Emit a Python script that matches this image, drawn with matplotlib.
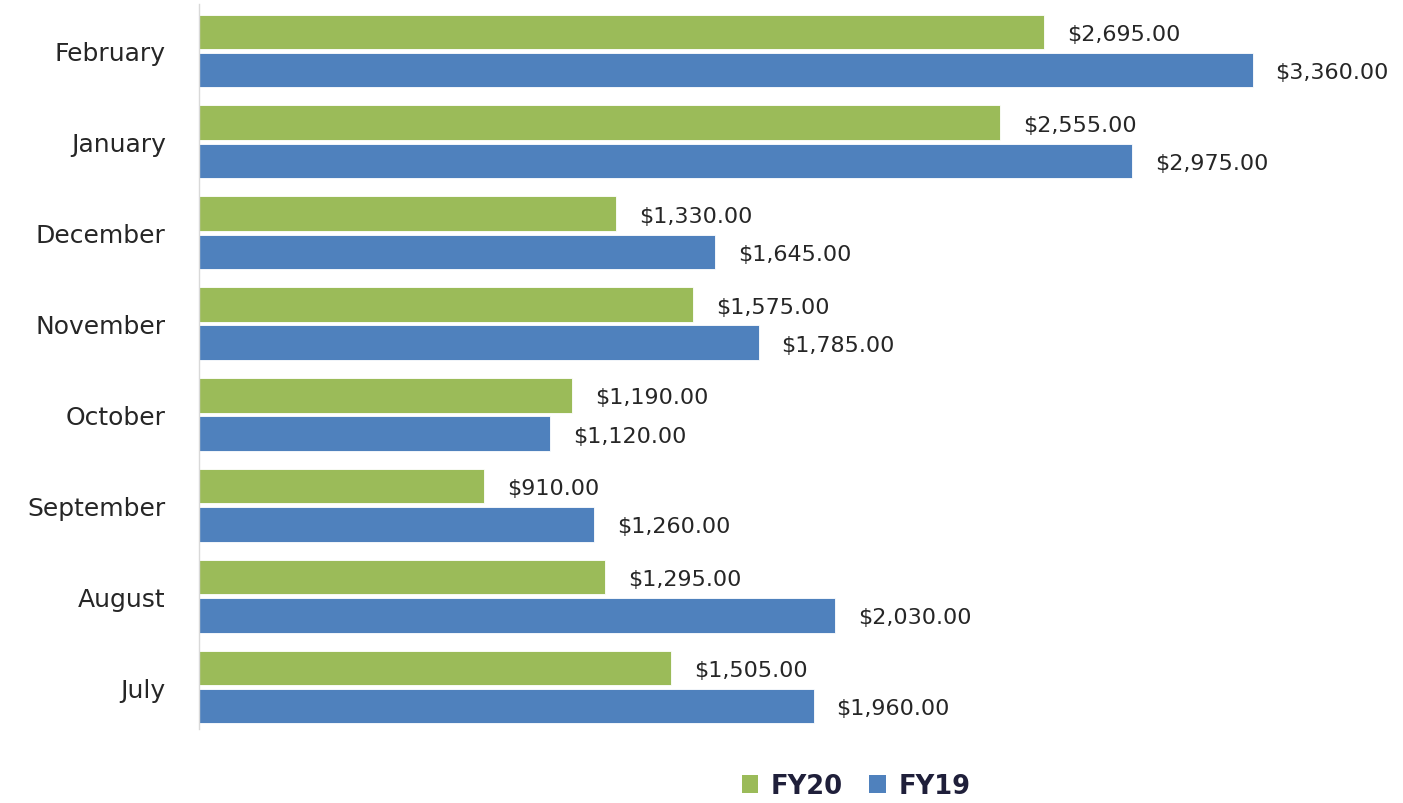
import matplotlib
matplotlib.use("Agg")
import matplotlib.pyplot as plt
from matplotlib.patches import Patch
import numpy as np

months = ["July", "August", "September", "October", "November", "December", "January", "February"]
fy20 = [1505, 1295, 910, 1190, 1575, 1330, 2555, 2695]
fy19 = [1960, 2030, 1260, 1120, 1785, 1645, 2975, 3360]

GREEN = "#9BBB59"
BLUE = "#4F81BD"

plt.rcParams['font.family'] = ['DejaVu Sans']

fig = plt.figure(figsize=(14.03, 8.04), dpi=100)
ax = fig.add_axes([199/1403, 1-730/804, 1-199/1403, (730-5)/804])

y = np.arange(len(months))
h = 0.38
off = 0.21
b20 = ax.barh(y + off, fy20, height=h, color=GREEN, edgecolor="white", linewidth=0.6)
b19 = ax.barh(y - off, fy19, height=h, color=BLUE, edgecolor="white", linewidth=0.6)

for bars in (b20, b19):
    for rect in bars:
        w = rect.get_width()
        ax.annotate(f"${w:,.2f}", xy=(w, rect.get_y() + rect.get_height()/2),
                    xytext=(16.5, -1.5), textcoords="offset points",
                    va="center", ha="left", fontsize=16, color="#262626")

ax.set_xlim(0, 3840)
ax.set_ylim(-0.462, 7.517)
ax.set_yticks(y)
ax.set_yticklabels(months, fontsize=18, color="#262626")
ax.tick_params(axis="y", length=0, pad=24)
ax.set_xticks([])
for s in ["top", "right", "bottom"]:
    ax.spines[s].set_visible(False)
ax.spines["left"].set_color("#d9d9d9")
ax.spines["left"].set_linewidth(1.0)

handles = [Patch(facecolor=GREEN, label="FY20"), Patch(facecolor=BLUE, label="FY19")]
fig.legend(handles=handles, loc="center", bbox_to_anchor=(856/1403, 1-787/804), ncol=2,
           frameon=False, prop={"weight": "bold", "size": 18.5}, labelcolor="#1f1f3a",
           handlelength=0.65, handleheight=0.65, handletextpad=0.5, columnspacing=1.0)

fig.savefig("out.png", dpi=100)
